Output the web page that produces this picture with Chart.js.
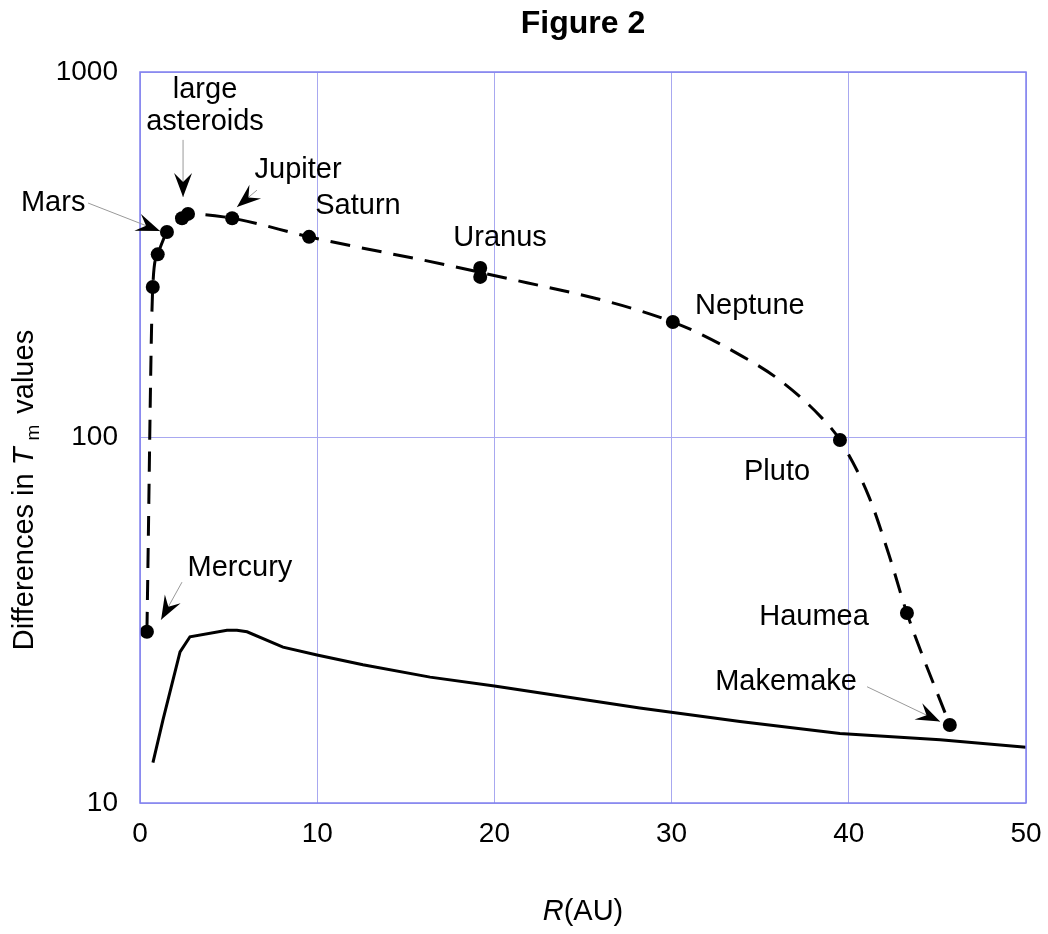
<!DOCTYPE html>
<html>
<head>
<meta charset="utf-8">
<script src="https://cdn.jsdelivr.net/npm/chart.js@4"></script>
<style>
  html, body { margin: 0; padding: 0; background: #fff; }
  #wrap { width: 1048px; height: 934px; }
</style>
</head>
<body>
<div id="wrap"><canvas id="fig"></canvas></div>
<script>
// planet points (R in AU, difference in Tm)
const planetR = [0.39, 0.72, 1.0, 1.52, 2.37, 2.71, 5.2, 9.54, 19.2, 19.2, 30.07, 39.5, 43.28, 45.7];
const planetV = [29.4, 258, 317, 365, 398, 409, 398, 354, 291, 275, 207, 98.4, 33.1, 16.35];

// dashed trend through the points
const trendR = [0.39, 0.72, 1.0, 1.52, 2.37, 2.71, 5.2, 9.54, 19.2, 30.07, 33.97, 36.23, 38.49, 39.5, 41.14, 42.27, 43.28, 45.7];
const trendV = [29.4, 258, 317, 365, 398, 409, 398, 354, 283, 207, 167, 142, 113, 98.4, 68.8, 47.7, 33.1, 16.35];

// solid lower curve
const modelR = [0.73, 1.30, 2.26, 2.82, 4.91, 5.47, 6.04, 8.07, 9.99, 12.58, 16.37, 20, 28.2, 33.86, 39.5, 45.15, 50];
const modelV = [12.9, 16.9, 25.9, 28.5, 29.7, 29.7, 29.4, 26.7, 25.4, 23.9, 22.1, 20.9, 18.2, 16.7, 15.5, 14.9, 14.2];

const xTicks = [0, 10, 20, 30, 40, 50];
const yTicks = [10, 100, 1000];

// text labels: [text, R, value]
const labels = [
  ['large', 3.67, 893], ['asteroids', 3.67, 730], ['Mars', -4.9, 438],
  ['Jupiter', 8.92, 540], ['Saturn', 12.3, 430], ['Uranus', 20.32, 351],
  ['Neptune', 34.42, 229], ['Pluto', 35.95, 80.5], ['Mercury', 5.64, 44],
  ['Haumea', 38.04, 32.3], ['Makemake', 36.46, 21.4]
];
// arrows: [fromR, fromV, toR, toV]
const arrows = [
  [2.43, 652, 2.43, 455], [6.6, 475, 5.47, 427], [-2.93, 438, 1.13, 367],
  [2.37, 40.2, 1.19, 31.7], [41.03, 20.8, 45.15, 16.7]
];

const pts = (xs, ys) => xs.map((x, i) => ({ x: x, y: ys[i] }));
const FONT = '"Liberation Sans", Arial, sans-serif';

function arrowHead(ctx, x0, y0, x1, y1) {
  const a = Math.atan2(y1 - y0, x1 - x0);
  const len = 24, w = 9, notch = 15;
  ctx.save();
  ctx.translate(x1, y1);
  ctx.rotate(a);
  ctx.beginPath();
  ctx.moveTo(0, 0);
  ctx.lineTo(-len, -w);
  ctx.lineTo(-notch, 0);
  ctx.lineTo(-len, w);
  ctx.closePath();
  ctx.fillStyle = '#000';
  ctx.fill();
  ctx.restore();
}

const decor = {
  id: 'decor',
  afterDraw(chart) {
    const ctx = chart.ctx, xs = chart.scales.x, ys = chart.scales.y, ca = chart.chartArea;
    ctx.save();
    // frame
    ctx.strokeStyle = '#8080ee';
    ctx.lineWidth = 1.5;
    ctx.strokeRect(ca.left, ca.top, ca.right - ca.left, ca.bottom - ca.top);

    // arrows
    arrows.forEach(a => {
      const x0 = xs.getPixelForValue(a[0]), y0 = ys.getPixelForValue(a[1]);
      const x1 = xs.getPixelForValue(a[2]), y1 = ys.getPixelForValue(a[3]);
      ctx.strokeStyle = '#999';
      ctx.lineWidth = 1;
      ctx.beginPath();
      ctx.moveTo(x0, y0);
      ctx.lineTo(x1, y1);
      ctx.stroke();
      arrowHead(ctx, x0, y0, x1, y1);
    });

    // labels
    ctx.fillStyle = '#000';
    ctx.font = '29px ' + FONT;
    ctx.textAlign = 'center';
    ctx.textBaseline = 'middle';
    labels.forEach(l => {
      ctx.fillText(l[0], xs.getPixelForValue(l[1]), ys.getPixelForValue(l[2]));
    });

    // title
    ctx.font = 'bold 32px ' + FONT;
    ctx.fillText('Figure 2', (ca.left + ca.right) / 2, 24);

    // x axis title R(AU)
    ctx.font = 'italic 29px ' + FONT;
    const wR = ctx.measureText('R').width;
    ctx.font = '29px ' + FONT;
    const wA = ctx.measureText('(AU)').width;
    let sx = (ca.left + ca.right) / 2 - (wR + wA) / 2;
    ctx.textAlign = 'left';
    ctx.font = 'italic 29px ' + FONT;
    ctx.fillText('R', sx, 912);
    ctx.font = '29px ' + FONT;
    ctx.fillText('(AU)', sx + wR, 912);

    // y axis title: Differences in T_m values
    ctx.translate(25, 490);
    ctx.rotate(-Math.PI / 2);
    const parts = [
      ['Differences in ', '29px ' + FONT, 0, 0],
      ['T', 'italic 29px ' + FONT, 0, 7],
      ['m', '19px ' + FONT, 9, 3],
      [' values', '29px ' + FONT, 0, 0]
    ];
    let total = 0;
    parts.forEach(p => { ctx.font = p[1]; total += ctx.measureText(p[0]).width + p[3]; });
    let px = -total / 2;
    parts.forEach(p => {
      ctx.font = p[1];
      ctx.fillText(p[0], px, p[2]);
      px += ctx.measureText(p[0]).width + p[3];
    });
    ctx.restore();
  }
};

new Chart(document.getElementById('fig'), {
  type: 'line',
  data: {
    datasets: [
      {
        data: pts(modelR, modelV),
        borderColor: '#000', borderWidth: 3, pointRadius: 0, tension: 0, fill: false
      },
      {
        data: pts(trendR, trendV),
        borderColor: '#000', borderWidth: 3, borderDash: [20, 12], pointRadius: 0,
        cubicInterpolationMode: 'monotone', fill: false
      },
      {
        data: pts(planetR, planetV),
        showLine: false, pointRadius: 7, pointBackgroundColor: '#000', pointBorderWidth: 0
      }
    ]
  },
  plugins: [decor],
  options: {
    responsive: true,
    maintainAspectRatio: false,
    animation: false,
    layout: { padding: { top: 72, right: 22, left: 0, bottom: 0 } },
    plugins: { legend: { display: false }, tooltip: { enabled: false } },
    scales: {
      x: {
        type: 'linear', min: 0, max: 50,
        afterBuildTicks: s => { s.ticks = xTicks.map(v => ({ value: v })); },
        afterFit: s => { s.height = 131; s.paddingLeft = 0; s.paddingRight = 0; },
        grid: { color: '#a8a8f0', lineWidth: 1, drawTicks: false },
        border: { display: false },
        ticks: { color: '#000', font: { size: 28, family: FONT }, padding: 14, maxRotation: 0 }
      },
      y: {
        type: 'logarithmic', min: 10, max: 1000,
        afterBuildTicks: s => { s.ticks = yTicks.map(v => ({ value: v })); },
        afterFit: s => { s.width = 140; s.paddingTop = 0; s.paddingBottom = 0; },
        grid: { color: '#a8a8f0', lineWidth: 1, drawTicks: false },
        border: { display: false },
        ticks: { color: '#000', font: { size: 28, family: FONT }, padding: 22,
                 callback: v => String(v) }
      }
    }
  }
});
</script>
</body>
</html>
